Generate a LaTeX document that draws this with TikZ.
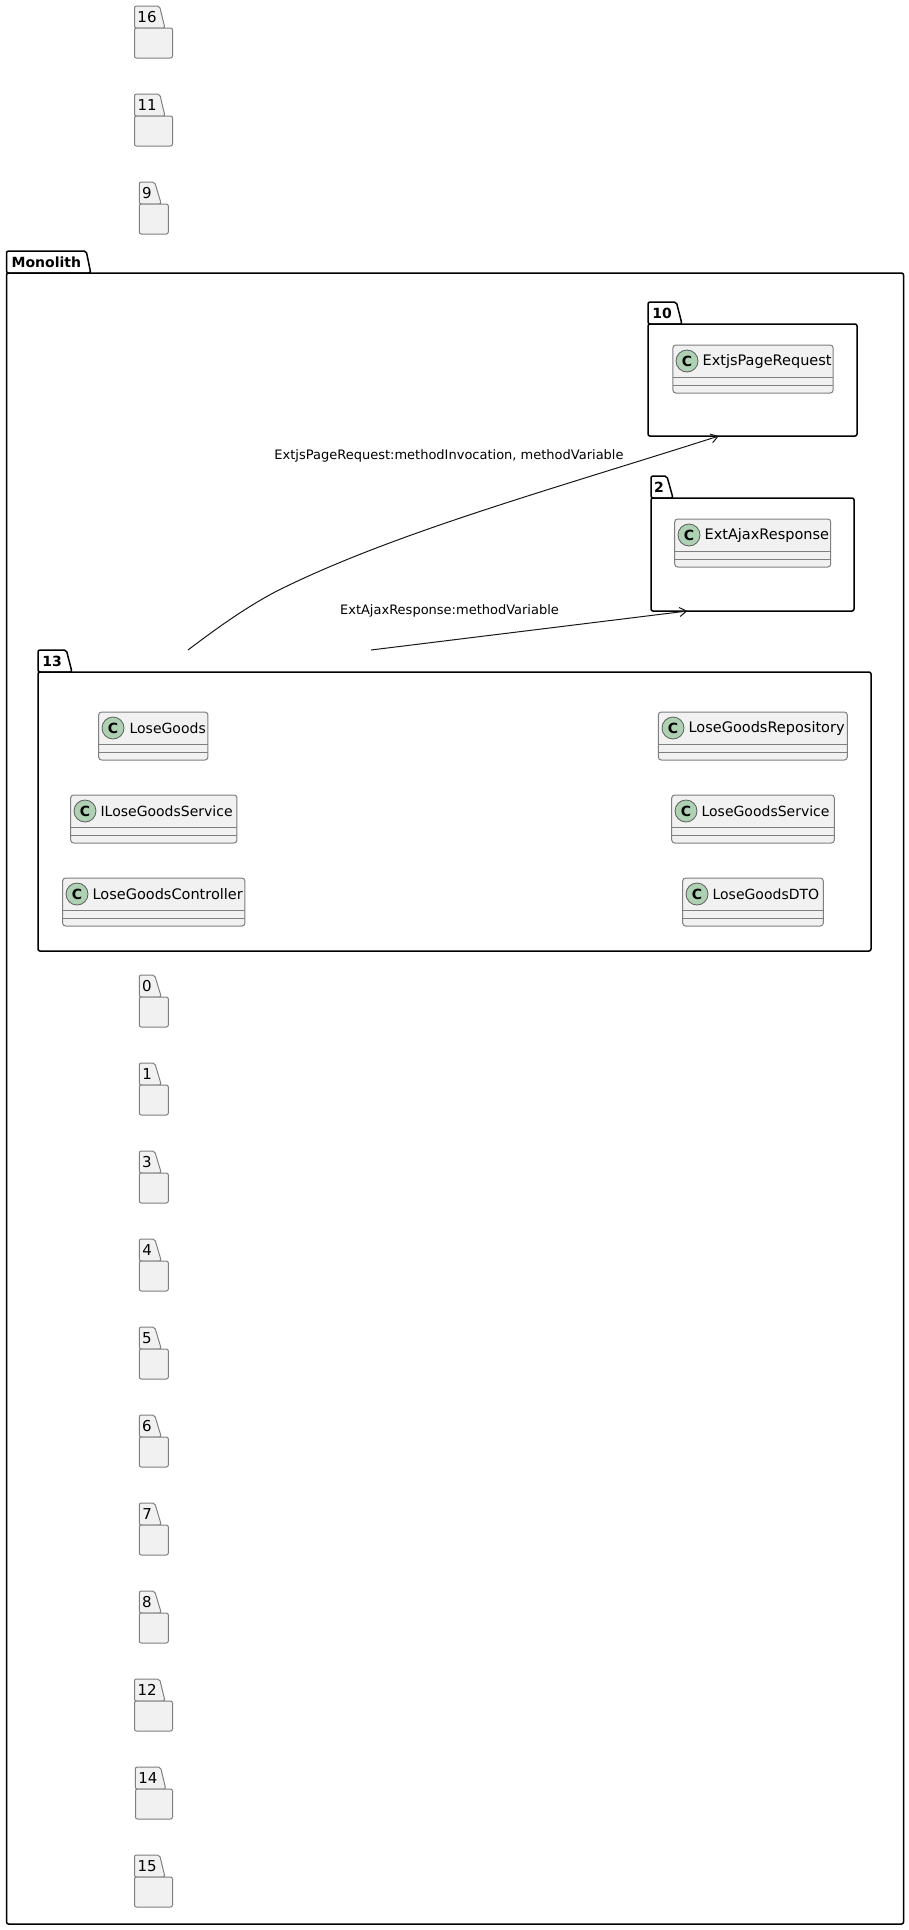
\documentclass[tikz,border=0pt]{standalone}
\usepackage{fontspec}
\setmainfont{DejaVu Sans}
\usetikzlibrary{arrows.meta,shapes.geometric,positioning}

\definecolor{pkgfill}{HTML}{F1F1F1}
\definecolor{pkgline}{HTML}{7F7F7F}
\definecolor{iconfill}{HTML}{ADD1B2}
\definecolor{edgeline}{HTML}{181818}

\tikzset{
    tabbase/.style={trapezium, trapezium left angle=90, trapezium right angle=70, trapezium stretches=true,
        anchor=bottom left corner, minimum height=22pt, inner sep=0pt, outer sep=0pt, rounded corners=2pt},
    smallbody/.style={draw=pkgline, fill=pkgfill, line width=1pt, rectangle, rounded corners=2pt,
        minimum height=30pt, inner sep=0pt, outer sep=0pt},
    smalltab/.style={tabbase, draw=pkgline, fill=pkgfill, line width=1pt, font=\fontsize{15}{17}\selectfont},
    bigbody/.style={draw=black, fill=white, line width=1.5pt, rectangle, rounded corners=2pt, inner sep=0pt, outer sep=0pt},
    bigtab/.style={tabbase, draw=black, fill=white, line width=1.5pt, font=\fontsize{14}{16}\selectfont\bfseries},
    classbox/.style={draw=pkgline, fill=pkgfill, line width=1pt, rectangle, rounded corners=3pt,
        minimum height=48pt, inner sep=0pt, outer sep=0pt,
        path picture={
            \draw[pkgline, line width=1pt] ([yshift=-32pt]path picture bounding box.north west) -- ([yshift=-32pt]path picture bounding box.north east);
            \draw[pkgline, line width=1pt] ([yshift=-40pt]path picture bounding box.north west) -- ([yshift=-40pt]path picture bounding box.north east);
        }},
    classicon/.style={draw=edgeline!70, fill=iconfill, line width=0.8pt, circle, minimum size=22pt, inner sep=0pt,
        font=\fontsize{14}{16}\selectfont\bfseries},
    classname/.style={inner sep=0pt, font=\fontsize{14}{17}\selectfont},
    widename/.style={inner sep=0pt, font=\fontsize{14.5}{17}\selectfont},
    edgelabel/.style={inner sep=0pt, font=\fontsize{13}{15}\selectfont},
    edge/.style={draw=edgeline, line width=1pt, ->, >={Straight Barb[length=7pt,width=9pt]}}
}

\begin{document}
\begin{tikzpicture}[x=1pt, y=-1pt]
    \useasboundingbox (0,0) rectangle (909,1930);

    % Outer package
    \node[bigtab, minimum width=84.5pt] (monotab) at (6.5,273) {Monolith};
    \node[bigbody, minimum width=897pt, minimum height=1651pt] (monolith) at (455,1098.5) {};

    % Small packages above
    \node[smalltab, minimum width=30.5pt] (tab16) at (134.5,28) {16};
    \node[smallbody, minimum width=38pt] (pkg16) at (153.5,43) {};
    \node[smalltab, minimum width=30.5pt] (tab11) at (134.5,116) {11};
    \node[smallbody, minimum width=38pt] (pkg11) at (153.5,131) {};
    \node[smalltab, minimum width=22pt] (tab9) at (139.3,204) {9};
    \node[smallbody, minimum width=29pt] (pkg9) at (153.8,219) {};

    % Packages with classes
    \node[bigtab, minimum width=34pt] (tab10) at (648,324) {10};
    \node[bigbody, minimum width=209pt, minimum height=112pt] (pkg10) at (752.5,380) {};
    \node[bigtab, minimum width=22pt] (tab2) at (651,498) {2};
    \node[bigbody, minimum width=203pt, minimum height=113pt] (pkg2) at (752.5,554.5) {};
    \node[bigtab, minimum width=34pt] (tab13) at (38,672) {13};
    \node[bigbody, minimum width=833pt, minimum height=279pt] (pkg13) at (454.5,811.5) {};

    % Classes
    \node[classbox, minimum width=160.3pt] (request) at (753,369) {};
    \node[classicon] (requesticon) at (687,361) {C};
    \node[widename, right=4pt of requesticon] (requestname) {ExtjsPageRequest};

    \node[classbox, minimum width=156pt] (response) at (752.7,543) {};
    \node[classicon] (responseicon) at (689,535) {C};
    \node[widename, right=4pt of responseicon] (responsename) {ExtAjaxResponse};

    \node[classbox, minimum width=109.3pt] (goods) at (153.3,736) {};
    \node[classicon] (goodsicon) at (113,728) {C};
    \node[classname, right=5pt of goodsicon] (goodsname) {LoseGoods};

    \node[classbox, minimum width=166.3pt] (iservice) at (153.8,819) {};
    \node[classicon] (iserviceicon) at (85,811) {C};
    \node[classname, right=4pt of iserviceicon] (iservicename) {ILoseGoodsService};

    \node[classbox, minimum width=182.3pt] (controller) at (153.8,902) {};
    \node[classicon] (controllericon) at (77,894) {C};
    \node[widename, right=4pt of controllericon] (controllername) {LoseGoodsController};

    \node[classbox, minimum width=189pt] (repository) at (752.8,736) {};
    \node[classicon] (repositoryicon) at (673,728) {C};
    \node[widename, right=4pt of repositoryicon] (repositoryname) {LoseGoodsRepository};

    \node[classbox, minimum width=162.6pt] (service) at (753,819) {};
    \node[classicon] (serviceicon) at (686,811) {C};
    \node[classname, right=4pt of serviceicon] (servicename) {LoseGoodsService};

    \node[classbox, minimum width=140.6pt] (dto) at (753,902) {};
    \node[classicon] (dtoicon) at (697,894) {C};
    \node[classname, right=4pt of dtoicon] (dtoname) {LoseGoodsDTO};

    % Edges with labels
    \coordinate (reqstart) at (188,650);
    \coordinate (respstart) at (371,650);
    \draw[edge] (reqstart) .. controls (217,628) and (245,608) .. (275,592)
        .. controls (390,534) and (550,490) .. (pkg10.-121.6);
    \draw[edge] (respstart) -- (pkg2.-139.2);
    \node[edgelabel] (reqlabel) at (449,456) {ExtjsPageRequest:methodInvocation, methodVariable};
    \node[edgelabel] (resplabel) at (449.5,611) {ExtAjaxResponse:methodVariable};

    % Small packages below
    \node[smalltab, minimum width=22pt] (tab0) at (139.3,997) {0};
    \node[smallbody, minimum width=29pt] (pkg0) at (153.8,1012) {};
    \node[smalltab, minimum width=22pt] (tab1) at (139.3,1085) {1};
    \node[smallbody, minimum width=29pt] (pkg1) at (153.8,1100) {};
    \node[smalltab, minimum width=22pt] (tab3) at (139.3,1173) {3};
    \node[smallbody, minimum width=29pt] (pkg3) at (153.8,1188) {};
    \node[smalltab, minimum width=22pt] (tab4) at (139.3,1261) {4};
    \node[smallbody, minimum width=29pt] (pkg4) at (153.8,1276) {};
    \node[smalltab, minimum width=22pt] (tab5) at (139.3,1349) {5};
    \node[smallbody, minimum width=29pt] (pkg5) at (153.8,1364) {};
    \node[smalltab, minimum width=22pt] (tab6) at (139.3,1437) {6};
    \node[smallbody, minimum width=29pt] (pkg6) at (153.8,1452) {};
    \node[smalltab, minimum width=22pt] (tab7) at (139.3,1525) {7};
    \node[smallbody, minimum width=29pt] (pkg7) at (153.8,1540) {};
    \node[smalltab, minimum width=22pt] (tab8) at (139.3,1613) {8};
    \node[smallbody, minimum width=29pt] (pkg8) at (153.8,1628) {};
    \node[smalltab, minimum width=30.5pt] (tab12) at (134.5,1701) {12};
    \node[smallbody, minimum width=38pt] (pkg12) at (153.5,1716) {};
    \node[smalltab, minimum width=30.5pt] (tab14) at (135.3,1789) {14};
    \node[smallbody, minimum width=37pt] (pkg14) at (154,1804) {};
    \node[smalltab, minimum width=30.5pt] (tab15) at (134.5,1877) {15};
    \node[smallbody, minimum width=38pt] (pkg15) at (153.5,1892) {};
\end{tikzpicture}
\end{document}
